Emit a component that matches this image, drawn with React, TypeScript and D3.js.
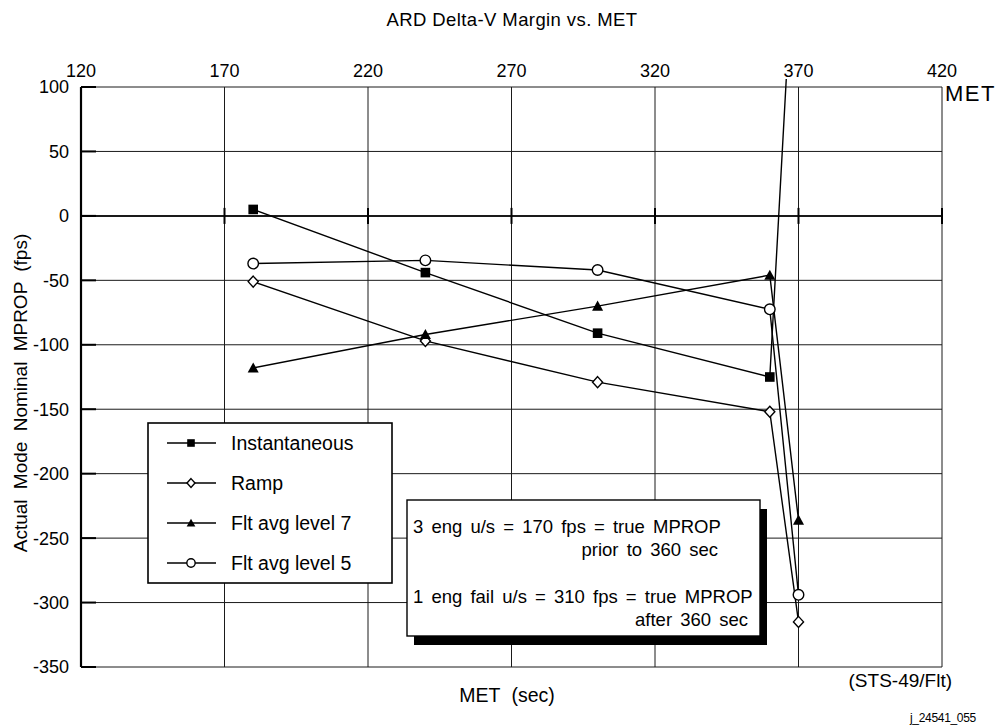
import React from "react";
import * as d3 from "d3";

const met = [180, 240, 300, 360, 370];
const instantaneous = [5, -44, -91, -125, 278];
const ramp = [-51, -97, -129, -152, -315];
const fltAvg7 = [-118, -92, -70, -46, -236];
const fltAvg5 = [-37, -34.5, -42, -72.5, -294];
const xTicks = [120, 170, 220, 270, 320, 370, 420];
const yTicks = [100, 50, 0, -50, -100, -150, -200, -250, -300, -350];
const seriesNames = ["Instantaneous", "Ramp", "Flt avg level 7", "Flt avg level 5"];
const noteLines = [
  "3 eng u/s = 170 fps = true MPROP",
  "prior to 360 sec",
  "1 eng fail u/s = 310 fps = true MPROP",
  "after 360 sec",
];

const W = 995;
const H = 725;
const L = 81, R = 942, T = 87, B = 667;
const FONT = "'Liberation Sans', Arial, Helvetica, sans-serif";

function marker(kind: string, s: number) {
  if (kind === "square") {
    return <rect x={-s} y={-s} width={2 * s} height={2 * s} fill="#000" stroke="none" />;
  }
  if (kind === "diamond") {
    return (
      <path d={`M0,${-s * 1.15}L${s * 1.05},0L0,${s * 1.15}L${-s * 1.05},0Z`} fill="#fff" stroke="#000" strokeWidth={1.4} />
    );
  }
  if (kind === "triangle") {
    return <path d={`M0,${-s * 1.15}L${s * 1.15},${s * 0.95}L${-s * 1.15},${s * 0.95}Z`} fill="#000" stroke="none" />;
  }
  return <circle r={s * 1.1} fill="#fff" stroke="#000" strokeWidth={1.4} />;
}

export default function App() {
  const x = d3.scaleLinear().domain([120, 420]).range([L, R]);
  const y = d3.scaleLinear().domain([-350, 100]).range([B, T]);
  const line = d3
    .line<[number, number]>()
    .x((d) => x(d[0]))
    .y((d) => y(d[1]));

  const series = [
    { name: seriesNames[0], vals: instantaneous, kind: "square" },
    { name: seriesNames[1], vals: ramp, kind: "diamond" },
    { name: seriesNames[2], vals: fltAvg7, kind: "triangle" },
    { name: seriesNames[3], vals: fltAvg5, kind: "circle" },
  ];

  const legX = 148, legY = 423, legW = 244, legH = 160;
  const boxX = 407, boxY = 500, boxW = 353, boxH = 136;

  return (
    <svg
      width={W}
      height={H}
      style={{ position: "absolute", left: 0, top: 0, background: "#fff" }}
      fontFamily={FONT}
    >
      <defs>
        <clipPath id="plotclip">
          <rect x={L} y={T - 8} width={R - L} height={B - T + 8} />
        </clipPath>
      </defs>
      <rect x={0} y={0} width={W} height={H} fill="#fff" />

      <text x={512} y={26} textAnchor="middle" fontSize={18.5} letterSpacing={0.4}>
        ARD Delta-V Margin vs. MET
      </text>

      {yTicks.map((t) => (
        <line key={"hg" + t} x1={L} x2={R} y1={y(t)} y2={y(t)} stroke="#1a1a1a" strokeWidth={t === 0 ? 2 : 1} />
      ))}
      {xTicks.slice(1).map((t) => (
        <line key={"vg" + t} x1={x(t)} x2={x(t)} y1={T} y2={B} stroke="#1a1a1a" strokeWidth={1} />
      ))}
      {xTicks.slice(1).map((t) => (
        <line key={"zt" + t} x1={x(t)} x2={x(t)} y1={y(0) - 8} y2={y(0) + 8} stroke="#000" strokeWidth={2} />
      ))}
      <line x1={L} x2={L} y1={T} y2={B} stroke="#000" strokeWidth={2.2} />
      {yTicks.map((t) => (
        <line key={"lt" + t} x1={L} x2={L + 15} y1={y(t)} y2={y(t)} stroke="#000" strokeWidth={2} />
      ))}

      {yTicks.map((t) => (
        <text key={"yl" + t} x={L - 12} y={y(t)} dy="0.36em" textAnchor="end" fontSize={18}>
          {t}
        </text>
      ))}
      {xTicks.map((t) => (
        <text key={"xl" + t} x={x(t)} y={T - 10} textAnchor="middle" fontSize={18}>
          {t}
        </text>
      ))}
      <text x={945} y={101} fontSize={22} letterSpacing={1.5}>
        MET
      </text>

      <g clipPath="url(#plotclip)">
        {series.map((s) => (
          <path
            key={"ln" + s.name}
            d={line(met.map((m, i) => [m, s.vals[i]] as [number, number])) || ""}
            fill="none"
            stroke="#000"
            strokeWidth={1.4}
          />
        ))}
      </g>
      {series.map((s) =>
        met.map((m, i) =>
          s.vals[i] <= 100 ? (
            <g key={"mk" + s.name + i} transform={`translate(${x(m)},${y(s.vals[i])})`}>
              {marker(s.kind, 4.8)}
            </g>
          ) : null
        )
      )}

      <rect x={legX} y={legY} width={legW} height={legH} fill="#fff" stroke="#000" strokeWidth={1.6} />
      {series.map((s, i) => {
        const cy = legY + 20 + i * 40;
        return (
          <g key={"lg" + s.name}>
            <line x1={legX + 19} x2={legX + 68} y1={cy} y2={cy} stroke="#000" strokeWidth={1.4} />
            <g transform={`translate(${legX + 43},${cy})`}>{marker(s.kind, 3.8)}</g>
            <text x={legX + 83} y={cy} dy="0.36em" fontSize={19.5}>
              {s.name}
            </text>
          </g>
        );
      })}

      <rect x={boxX + 7} y={boxY + 9} width={boxW} height={boxH} fill="#000" />
      <rect x={boxX} y={boxY} width={boxW} height={boxH} fill="#fff" stroke="#000" strokeWidth={1.4} />
      <text x={boxX + 6} y={533} fontSize={18.5} wordSpacing={3}>
        {noteLines[0]}
      </text>
      <text x={718} y={556} textAnchor="end" fontSize={18.5} wordSpacing={3}>
        {noteLines[1]}
      </text>
      <text x={boxX + 6} y={603} fontSize={18.5} wordSpacing={3}>
        {noteLines[2]}
      </text>
      <text x={748} y={626} textAnchor="end" fontSize={18.5} wordSpacing={3}>
        {noteLines[3]}
      </text>

      <text
        transform={`translate(27,393) rotate(-90)`}
        textAnchor="middle"
        fontSize={19}
        wordSpacing={5}
      >
        Actual Mode Nominal MPROP (fps)
      </text>
      <text x={507} y={702} textAnchor="middle" fontSize={19.5} wordSpacing={6}>
        MET (sec)
      </text>
      <text x={952} y={687} textAnchor="end" fontSize={19}>
        (STS-49/Flt)
      </text>
      <text x={976} y={722} textAnchor="end" fontSize={12} letterSpacing={-0.3}>
        j_24541_055
      </text>
    </svg>
  );
}
